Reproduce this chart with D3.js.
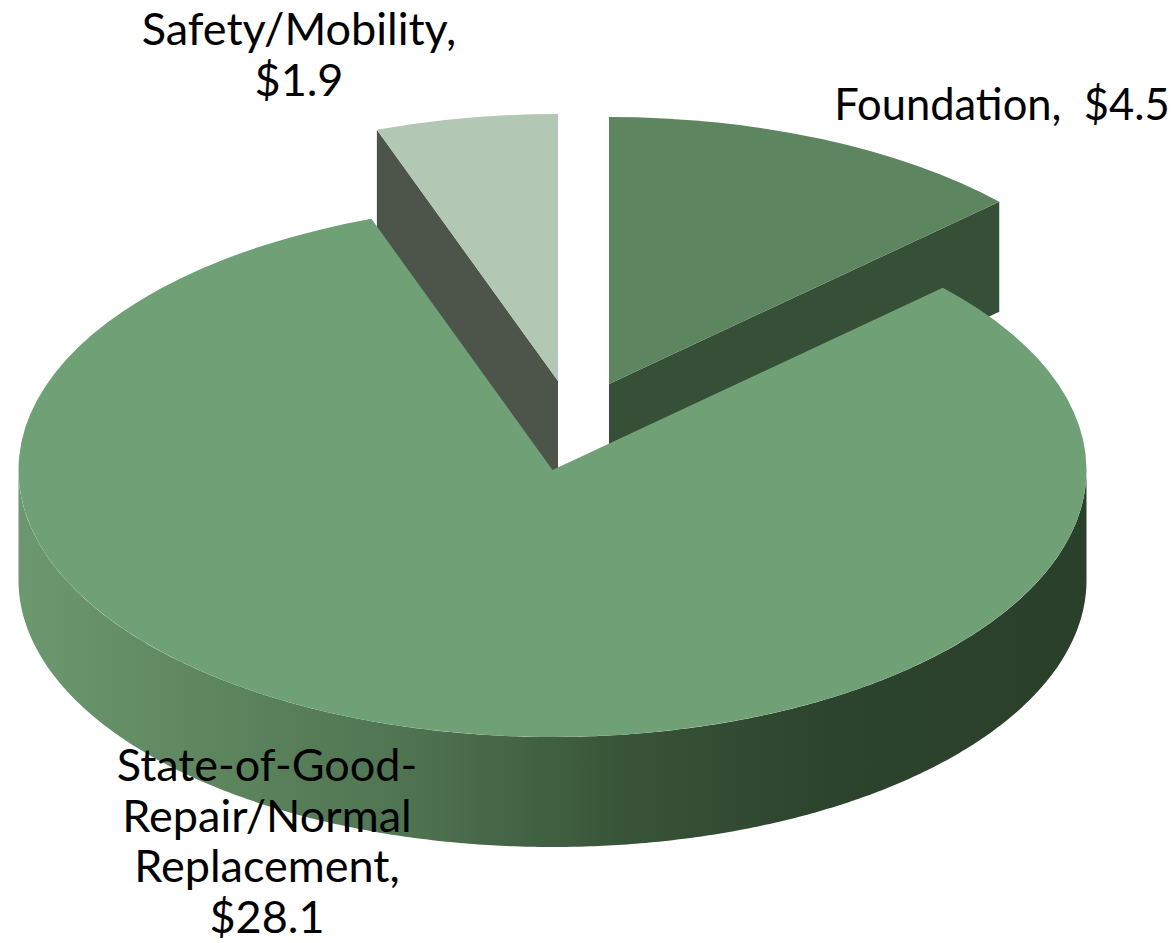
<!DOCTYPE html>
<html>
<head>
<meta charset="utf-8">
<script src="https://cdn.jsdelivr.net/npm/d3@7"></script>
<style>
html,body{margin:0;padding:0;background:#fff;overflow:hidden}
svg{display:block}
text{font-family:"Lato",sans-serif;fill:#000;text-anchor:middle}
</style>
</head>
<body>
<svg id="chart" width="1174" height="943"></svg>
<script>
// Data
const categories = ["Foundation", "State-of-Good-Repair/Normal Replacement", "Safety/Mobility"];
const values = [4.5, 28.1, 1.9];
const labelLines = [
  ["Foundation,  $4.5"],
  ["State-of-Good-", "Repair/Normal", "Replacement,", "$28.1"],
  ["Safety/Mobility,", "$1.9"]
];

// Appearance and layout
const topColors = ["#5d855f", "#70a176", "#b3c8b4"];
const wallColors = ["#364f37", null, "#4d544a"];
const apexes = [[609, 384], [552.5, 470], [558, 381]];
const wallSide = ["endAngle", null, "startAngle"];
const labelAnchors = [[1002, 120], [267, 781], [299, 45]];
const labelSizes = [43.5, 45, 45];
const lineStep = 50.7;
const rx = 534, ry = 267, depth = 110;

const svg = d3.select("#chart");
const defs = svg.append("defs");
const grad = defs.append("linearGradient").attr("id", "rim")
  .attr("gradientUnits", "userSpaceOnUse").attr("x1", 18).attr("x2", 1086).attr("y1", 0).attr("y2", 0);
[[0, "#6c9870"], [0.17, "#5e875f"], [0.37, "#4f7351"], [0.56, "#395539"], [0.76, "#2c432d"], [1, "#2b402b"]]
  .forEach(([o, c]) => grad.append("stop").attr("offset", o).attr("stop-color", c));

const pie = d3.pie().sort(null).value(d => d);
const arcs = pie(values);
const arc = d3.arc().innerRadius(0).outerRadius(rx);
const px = (i, a) => apexes[i][0] + rx * Math.sin(a);
const py = (i, a) => apexes[i][1] - ry * Math.cos(a);

// Cut faces of the two pulled-out slices, behind the main slice
const wall = d3.area().x(d => d[0]).y0(d => d[1]).y1(d => d[1] + depth);
[0, 2].forEach(i => {
  const a = arcs[i][wallSide[i]];
  svg.append("path")
    .attr("d", wall([apexes[i], [px(i, a), py(i, a)]]))
    .attr("fill", wallColors[i]);
});

// Rim of the main slice (front half of the ellipse)
const rimAngles = d3.range(Math.PI / 2, 3 * Math.PI / 2 + 0.001, Math.PI / 360);
svg.append("path")
  .attr("d", wall(rimAngles.map(a => [px(1, a), py(1, a)])))
  .attr("fill", "url(#rim)");

// Top faces
arcs.forEach((d, i) => {
  svg.append("path")
    .attr("transform", `translate(${apexes[i][0]},${apexes[i][1]}) scale(1,${ry / rx})`)
    .attr("d", arc(d))
    .attr("fill", topColors[i]);
});

// Labels
labelLines.forEach((lines, i) => {
  lines.forEach((line, j) => {
    svg.append("text")
      .attr("x", labelAnchors[i][0])
      .attr("y", labelAnchors[i][1] + j * lineStep)
      .attr("font-size", labelSizes[i])
      .style("white-space", "pre")
      .text(line);
  });
});
</script>
</body>
</html>
